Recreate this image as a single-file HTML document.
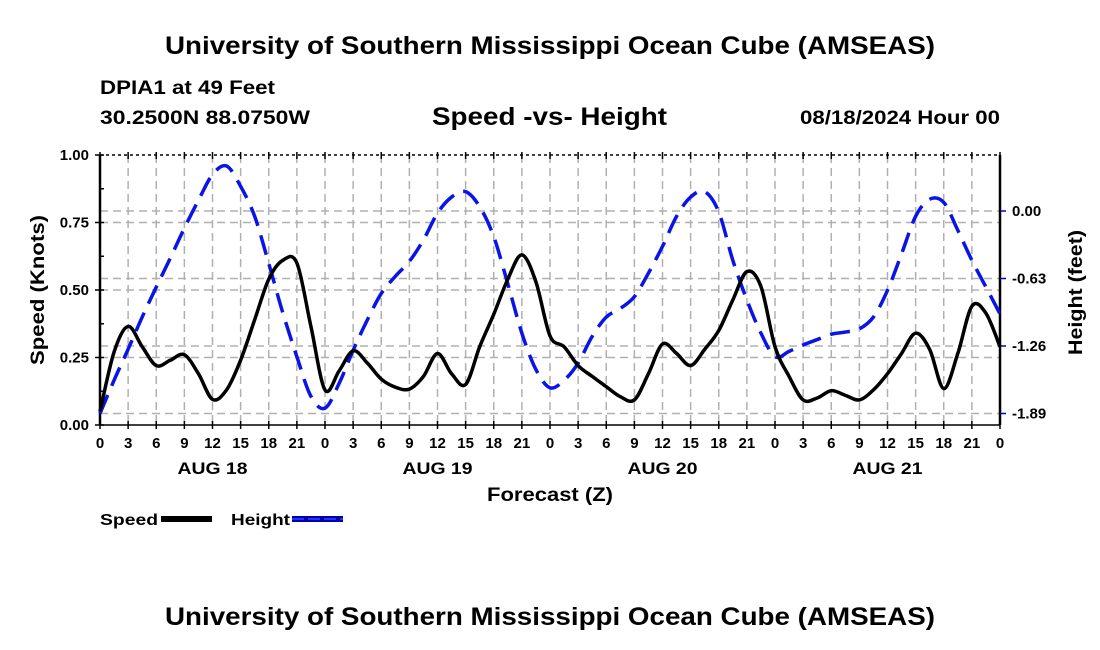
<!DOCTYPE html>
<html><head><meta charset="utf-8">
<style>
body{margin:0;background:#fff;}
svg{display:block;font-family:"Liberation Sans",sans-serif;font-weight:bold;}
</style></head>
<body>
<svg id="chart" width="1100" height="650" viewBox="0 0 1100 650">
<text x="165" y="54" font-size="25" textLength="770" lengthAdjust="spacingAndGlyphs">University of Southern Mississippi Ocean Cube (AMSEAS)</text>
<text x="100" y="94" font-size="19" textLength="175" lengthAdjust="spacingAndGlyphs">DPIA1 at 49 Feet</text>
<text x="100" y="124" font-size="19" textLength="210" lengthAdjust="spacingAndGlyphs">30.2500N  88.0750W</text>
<text x="432" y="125" font-size="25" textLength="235" lengthAdjust="spacingAndGlyphs">Speed -vs- Height</text>
<text x="800" y="124" font-size="19" textLength="200" lengthAdjust="spacingAndGlyphs">08/18/2024 Hour 00</text>
<g id="grid"></g>
<g id="axes"></g>
<g id="series"></g>
<text x="487" y="501" font-size="19" textLength="126" lengthAdjust="spacingAndGlyphs">Forecast (Z)</text>
<text transform="translate(44,365) rotate(-90)" font-size="19" textLength="150" lengthAdjust="spacingAndGlyphs">Speed (Knots)</text>
<text transform="translate(1082,355) rotate(-90)" font-size="19" textLength="125" lengthAdjust="spacingAndGlyphs">Height (feet)</text>
<g>
<text x="100" y="525" font-size="16" textLength="58" lengthAdjust="spacingAndGlyphs">Speed</text>
<rect x="161" y="516" width="51" height="6" fill="#000"/>
<text x="231" y="525" font-size="16" textLength="59" lengthAdjust="spacingAndGlyphs">Height</text>
<rect x="292" y="516" width="51" height="6" fill="#0000aa"/>
<line x1="292" y1="519" x2="343" y2="519" stroke="#2233ff" stroke-width="2" stroke-dasharray="12,4"/>
</g>
<text x="165" y="625" font-size="25" textLength="770" lengthAdjust="spacingAndGlyphs">University of Southern Mississippi Ocean Cube (AMSEAS)</text>
</svg>
<script>
const hours = [0,1.5,3,4.5,6,7.5,9,10.5,12,13.5,15,16.5,18,19.5,21,22.5,24,25.5,27,28.5,30,31.5,33,34.5,36,37.5,39,40.5,42,43.5,45,46.5,48,49.5,51,52.5,54,55.5,57,58.5,60,61.5,63,64.5,66,67.5,69,70.5,72,73.5,75,76.5,78,79.5,81,82.5,84,85.5,87,88.5,90,91.5,93,94.5,96];
const speed = [0.05,0.27,0.365,0.29,0.22,0.24,0.26,0.19,0.095,0.13,0.24,0.39,0.54,0.61,0.60,0.365,0.13,0.20,0.275,0.23,0.17,0.14,0.133,0.18,0.265,0.19,0.15,0.29,0.41,0.54,0.63,0.53,0.33,0.29,0.22,0.18,0.142,0.105,0.093,0.19,0.30,0.265,0.22,0.28,0.35,0.463,0.568,0.513,0.29,0.18,0.093,0.10,0.127,0.11,0.093,0.13,0.19,0.265,0.34,0.28,0.135,0.265,0.44,0.414,0.29];
const height = [-1.89,-1.58,-1.29,-0.99,-0.71,-0.44,-0.16,0.10,0.34,0.42,0.23,-0.05,-0.49,-0.95,-1.36,-1.73,-1.84,-1.61,-1.30,-1.02,-0.77,-0.61,-0.47,-0.27,-0.02,0.13,0.18,0.04,-0.24,-0.68,-1.14,-1.48,-1.65,-1.58,-1.42,-1.17,-0.99,-0.91,-0.80,-0.58,-0.33,-0.05,0.13,0.18,-0.01,-0.46,-0.83,-1.14,-1.36,-1.31,-1.25,-1.20,-1.15,-1.13,-1.10,-0.99,-0.74,-0.40,-0.05,0.11,0.08,-0.18,-0.46,-0.71,-0.96];
const speedTicks = [0,0.25,0.5,0.75,1.0];
const speedTickLabels = ["0.00","0.25","0.50","0.75","1.00"];
const heightTicks = [0,-0.63,-1.26,-1.89];
const heightTickLabels = ["0.00","-0.63","-1.26","-1.89"];
const xTickLabels = ["0","3","6","9","12","15","18","21"];
const dayLabels = ["AUG 18","AUG 19","AUG 20","AUG 21"];

const X0=100,X1=1000,Y0=425,Y1=155;
const xs=h=>X0+(X1-X0)*h/96;
const ys=v=>Y0-(Y0-Y1)*v;
const yh=v=>211-v*(67.5/0.63);
const NS="http://www.w3.org/2000/svg";
function mk(tag,attrs,parent){const e=document.createElementNS(NS,tag);for(const k in attrs)e.setAttribute(k,attrs[k]);parent.appendChild(e);return e;}
const grid=document.getElementById('grid'),axes=document.getElementById('axes'),series=document.getElementById('series');
for(let h=3;h<96;h+=3){const l=mk('line',{x1:xs(h),x2:xs(h),y1:Y1,y2:Y0,stroke:'#b0b0b0','stroke-width':1.5,'stroke-dasharray':'8,5'},grid);

}
speedTicks.forEach(v=>{if(v>0&&v<1){const l=mk('line',{x1:X0,x2:X1,y1:ys(v),y2:ys(v),stroke:'#b0b0b0','stroke-width':1.5,'stroke-dasharray':'8,5'},grid);

}});
heightTicks.forEach(v=>{const l=mk('line',{x1:X0,x2:X1,y1:yh(v),y2:yh(v),stroke:'#b0b0b0','stroke-width':1.5,'stroke-dasharray':'8,5'},grid);

});
mk('line',{x1:X0,x2:X1,y1:Y1,y2:Y1,stroke:'#000','stroke-width':1.5,'stroke-dasharray':'3,3'},axes);
mk('line',{x1:X0,x2:X1,y1:Y0,y2:Y0,stroke:'#000','stroke-width':1.5},axes);
mk('line',{x1:X0,x2:X0,y1:Y1,y2:Y0,stroke:'#000','stroke-width':2.5},axes);
mk('line',{x1:X1,x2:X1,y1:Y1,y2:Y0,stroke:'#000','stroke-width':2.5},axes);
for(let i=0;i<=8;i++){const v=i*0.125;mk('line',{x1:X0-(i%2?0:5),x2:X0+4,y1:ys(v),y2:ys(v),stroke:'#000','stroke-width':1.5},axes);}
speedTicks.forEach((v,i)=>{const t=mk('text',{x:89,y:ys(v)+5,'text-anchor':'end','font-size':15},axes);t.textContent=speedTickLabels[i];

});
heightTicks.forEach((v,i)=>{mk('line',{x1:X1,x2:X1+6,y1:yh(v),y2:yh(v),stroke:'#0000cc','stroke-width':1.5},axes);
const t=mk('text',{x:1012,y:yh(v)+5,'font-size':15},axes);t.textContent=heightTickLabels[i];

});
for(let h=0;h<=96;h+=3){mk('line',{x1:xs(h),x2:xs(h),y1:Y0-4,y2:Y0+4,stroke:'#000','stroke-width':1.5},axes);
mk('line',{x1:xs(h),x2:xs(h),y1:Y1-3,y2:Y1+4,stroke:'#000','stroke-width':1.5},axes);
const t=mk('text',{x:xs(h),y:448,'text-anchor':'middle','font-size':15},axes);t.textContent=h===96?'0':xTickLabels[(h/3)%8];

}
dayLabels.forEach((d,i)=>{const t=mk('text',{x:xs(i*24+12)-35,y:474,'font-size':17,textLength:70,lengthAdjust:'spacingAndGlyphs'},axes);t.textContent=d;

});
function path(pts){let d='M'+pts[0][0]+','+pts[0][1];for(let i=0;i<pts.length-1;i++){const p0=pts[Math.max(0,i-1)],p1=pts[i],p2=pts[i+1],p3=pts[Math.min(pts.length-1,i+2)];
d+=' C'+(p1[0]+(p2[0]-p0[0])/6)+','+(p1[1]+(p2[1]-p0[1])/6)+' '+(p2[0]-(p3[0]-p1[0])/6)+','+(p2[1]-(p3[1]-p1[1])/6)+' '+p2[0]+','+p2[1];}return d;}
const hp=mk('path',{d:path(hours.map((h,i)=>[xs(h),yh(height[i])])),fill:'none',stroke:'#0a14e6','stroke-width':3.5,'stroke-dasharray':'20,10'},series);


const sp=mk('path',{d:path(hours.map((h,i)=>[xs(h),ys(speed[i])])),fill:'none',stroke:'#000','stroke-width':3.5},series);


</script>
</body></html>
